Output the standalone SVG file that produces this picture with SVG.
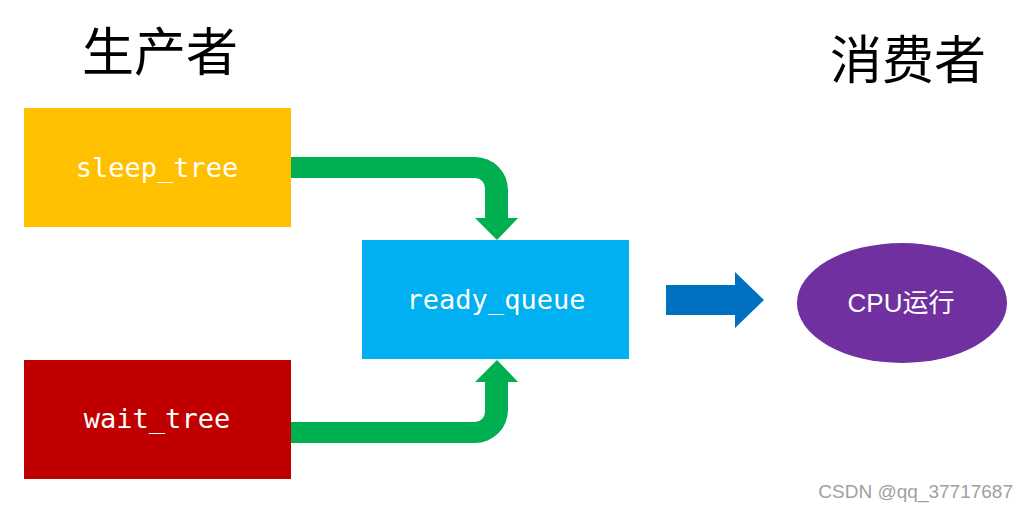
<svg xmlns="http://www.w3.org/2000/svg" width="1029" height="513" viewBox="0 0 1029 513">
<style>
.lbl{font-family:"DejaVu Sans Mono","Liberation Mono",monospace;font-size:27px;fill:#fff;text-anchor:middle}
.title{font-family:"Noto Sans CJK SC","Noto Sans CJK JP",sans-serif;font-size:52px;fill:#000;text-anchor:middle}
.green{fill:#00B050}
</style>
<rect width="1029" height="513" fill="#fff"/>
<text class="title" x="160" y="71">生产者</text>
<text class="title" x="908" y="79">消费者</text>
<g id="connectors">
<path class="green" d="M291,157 H475 A33,33 0 0 1 508,190 V218 H518 L497,240 L475,218 H485 V188 A10,10 0 0 0 475,178 H291 Z"/>
<path class="green" d="M291,443 H475 A33,33 0 0 0 508,410 V382 H518 L497,360 L475,382 H485 V412 A10,10 0 0 1 475,422 H291 Z"/>
<path fill="#0070C0" d="M666,285 H735 V272 L764,300 L735,328 V315 H666 Z"/>
</g>
<g id="sleep_tree">
<rect x="24" y="108" width="267" height="119" fill="#FFC000"/>
<text class="lbl" x="157" y="177">sleep_tree</text>
</g>
<g id="wait_tree">
<rect x="24" y="360" width="267" height="119" fill="#C00000"/>
<text class="lbl" x="157" y="428">wait_tree</text>
</g>
<g id="ready_queue">
<rect x="362" y="240" width="267" height="119" fill="#00B0F0"/>
<text class="lbl" x="496" y="309">ready_queue</text>
</g>
<g id="cpu">
<ellipse cx="902" cy="303" rx="105" ry="60" fill="#7030A0"/>
<text x="901" y="312" font-family="Liberation Sans,Noto Sans CJK SC,sans-serif" font-size="26" fill="#fff" text-anchor="middle">CPU运行</text>
</g>
<text x="1013" y="498" font-family="Liberation Sans,sans-serif" font-size="19" fill="#a0a0a0" text-anchor="end">CSDN @qq_37717687</text>
</svg>
